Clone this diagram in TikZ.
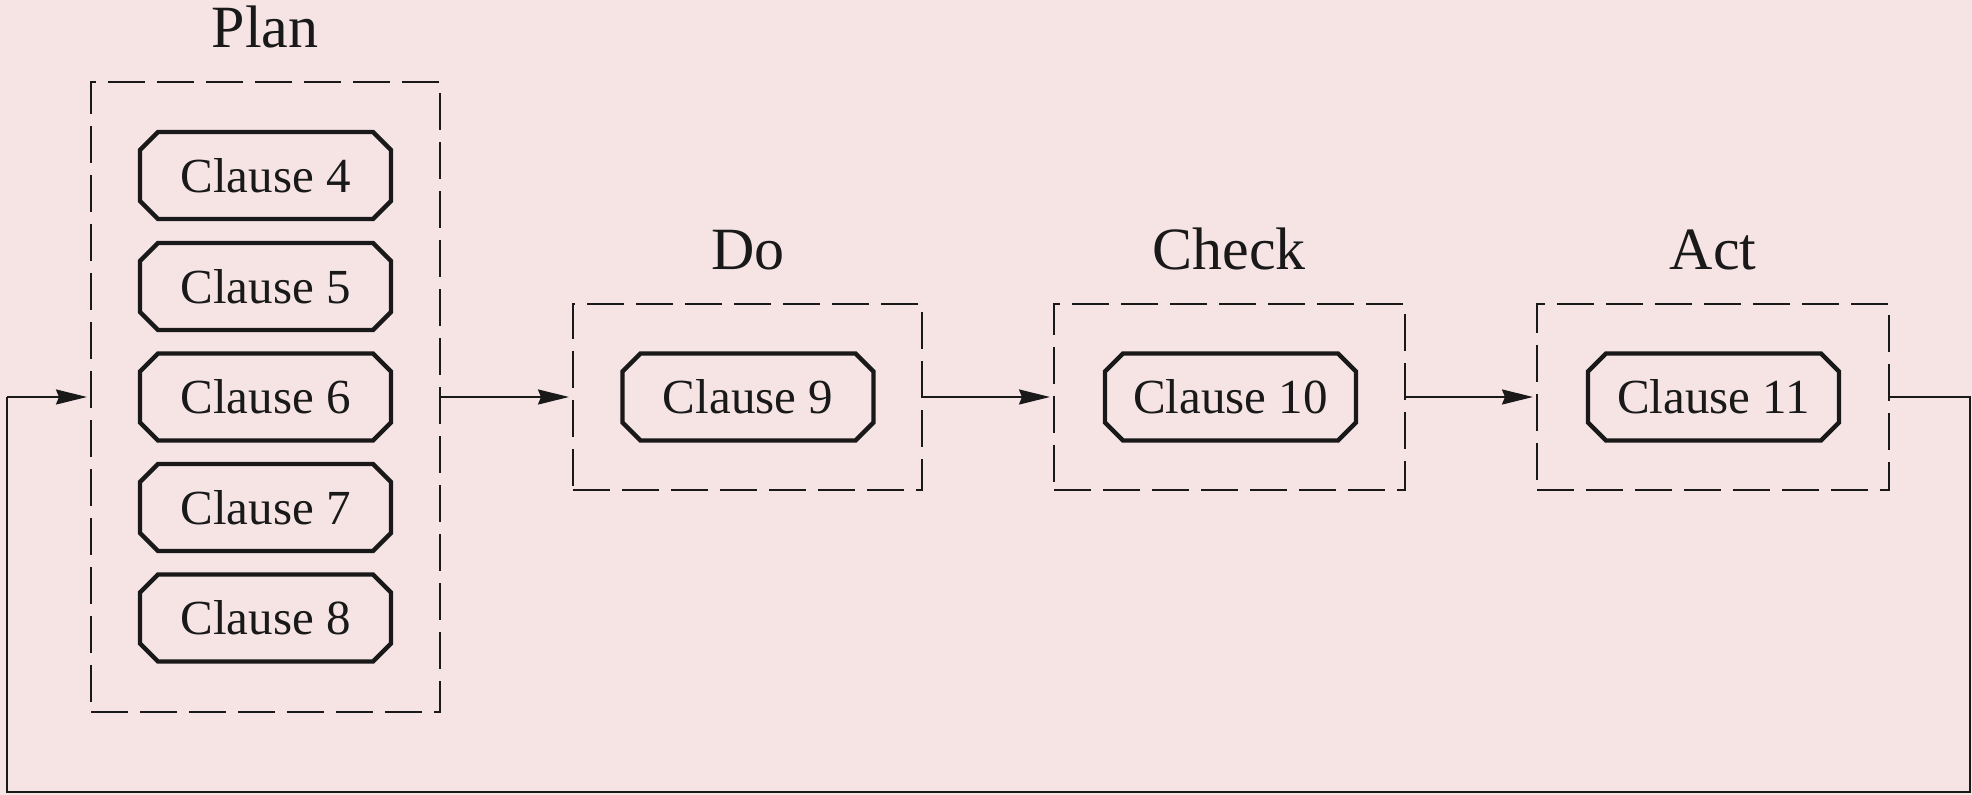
\documentclass[tikz,border=0pt]{standalone}
\usepackage{fontspec}
\setmainfont{Liberation Serif}
\usetikzlibrary{shapes.misc,arrows.meta}

\definecolor{bgpink}{RGB}{246,228,229}
\definecolor{ink}{RGB}{25,25,25}

\tikzset{
  clausebox/.style={chamfered rectangle, chamfered rectangle xsep=4.5pt,
    chamfered rectangle ysep=4.5pt, draw=ink, line width=2.2pt,
    minimum width=125.5pt, minimum height=43.5pt, inner sep=0pt,
    text=ink, font=\fontsize{24.5pt}{28pt}\selectfont},
  phasebox/.style={draw=ink, line width=1pt, dash pattern=on 18.5pt off 6pt,
    inner sep=0pt},
  phasetitle/.style={anchor=base, text=ink, inner sep=0pt,
    font=\fontsize{30pt}{34pt}\selectfont},
  flow/.style={draw=ink, line width=1pt,
    -{Stealth[length=15.5pt,width=7.5pt,inset=1.5pt]}, shorten >=1.5pt},
  loopline/.style={draw=ink, line width=1.2pt},
}

\begin{document}
\begin{tikzpicture}[x=0.5pt,y=-0.5pt]
  % page background
  \fill[bgpink] (0,0) rectangle (1972,795);
  \useasboundingbox (0,0) rectangle (1972,795);

  % phase frames
  \node[phasebox, minimum width=174.5pt, minimum height=315pt] (plan) at (265.5,397) {};
  \node[phasebox, minimum width=174.5pt, minimum height=93pt] (do) at (747.5,397) {};
  \node[phasebox, minimum width=175.5pt, minimum height=93pt] (check) at (1229.5,397) {};
  \node[phasebox, minimum width=176pt, minimum height=93pt] (act) at (1713,397) {};

  % phase titles
  \node[phasetitle] (tplan) at (265,48) {Plan};
  \node[phasetitle] (tdo) at (748,270) {Do};
  \node[phasetitle] (tcheck) at (1229,270) {Check};
  \node[phasetitle] (tact) at (1713,270) {Act};

  % clauses
  \node[clausebox] (c4) at (265.5,175.5) {Clause 4};
  \node[clausebox] (c5) at (265.5,286.5) {Clause 5};
  \node[clausebox] (c6) at (265.5,397) {Clause 6};
  \node[clausebox] (c7) at (265.5,507.5) {Clause 7};
  \node[clausebox] (c8) at (265.5,618) {Clause 8};
  \node[clausebox] (c9) at (748,397) {Clause 9};
  \node[clausebox] (c10) at (1230.5,397) {Clause 10};
  \node[clausebox] (c11) at (1713.5,397) {Clause 11};

  % forward flow
  \draw[flow] (plan.east) -- (do.west);
  \draw[flow] (do.east) -- (check.west);
  \draw[flow] (check.east) -- (act.west);

  % feedback loop from Act back to Plan
  \coordinate (r1) at (1970,397);
  \coordinate (r2) at (1970,792);
  \coordinate (l1) at (7,792);
  \coordinate (l2) at (7,397);
  \draw[loopline] (act.east) -- (r1) -- (r2) -- (l1) -- (l2);
  \draw[flow] (l2) -- (plan.west);
\end{tikzpicture}
\end{document}
